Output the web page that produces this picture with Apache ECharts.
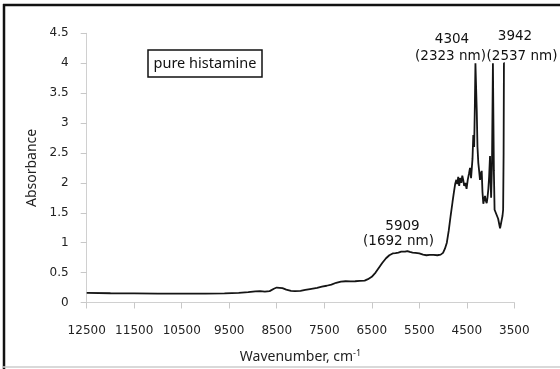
<!DOCTYPE html>
<html>
<head>
<meta charset="utf-8">
<script src="https://cdn.jsdelivr.net/npm/echarts@6/dist/echarts.min.js"></script>
<style>html,body{margin:0;padding:0;background:#fff}#c{width:560px;height:369px}</style>
</head>
<body>
<div id="c"></div>
<script>
const wavenumbers = [12500,12000,11500,11000,10500,10000,9600,9300,9100,8950,8850,8750,8650,8560,8500,8440,8380,8300,8200,8120,8000,7900,7800,7650,7550,7450,7350,7250,7150,7050,6950,6850,6750,6650,6580,6500,6420,6350,6280,6200,6130,6060,6000,5940,5880,5840,5800,5750,5700,5640,5580,5500,5420,5350,5280,5200,5120,5050,5000,4960,4920,4880,4840,4800,4770,4745,4720,4700,4680,4660,4640,4615,4595,4575,4555,4530,4505,4480,4455,4432,4410,4395,4380,4363,4345,4330,4318,4300,4290,4275,4257,4240,4222,4205,4186,4170,4152,4135,4117,4100,4081,4065,4046,4030,4011,3998,3988,3970,3950,3940,3930,3915,3890,3870,3840,3815,3800,3785,3765,3748,3735,3725,3718,3700];
const absorbance = [0.16,0.155,0.152,0.15,0.148,0.149,0.153,0.162,0.172,0.185,0.19,0.183,0.19,0.23,0.25,0.245,0.24,0.215,0.195,0.19,0.195,0.21,0.225,0.245,0.265,0.28,0.30,0.33,0.35,0.355,0.352,0.355,0.36,0.365,0.39,0.43,0.5,0.58,0.66,0.74,0.79,0.82,0.825,0.835,0.85,0.86,0.85,0.86,0.845,0.835,0.83,0.82,0.8,0.79,0.795,0.795,0.79,0.8,0.83,0.9,1.0,1.2,1.45,1.68,1.85,1.98,2.05,1.98,2.1,1.95,2.08,2.0,2.12,2.05,1.95,2.0,1.9,2.05,2.15,2.25,2.08,2.05,2.4,2.8,2.6,3.3,4.0,4.0,3.2,2.6,2.33,2.2,2.05,2.15,2.2,1.85,1.65,1.72,1.78,1.7,1.66,1.75,1.9,2.1,2.45,2.0,1.75,2.3,4.0,4.0,2.2,1.55,1.5,1.47,1.4,1.3,1.24,1.3,1.38,1.45,1.55,2.5,4.0,4.0];
const xTicks = [12500,11500,10500,9500,8500,7500,6500,5500,4500,3500];
const yTicks = [0,0.5,1,1.5,2,2.5,3,3.5,4,4.5];
const boxLabel = 'pure histamine';
const peakWavenumbers = ['5909','4304','3942'];
const peakWavelengths = ['(1692 nm)','(2323 nm)','(2537 nm)'];

const chart = echarts.init(document.getElementById('c'), null, {renderer:'canvas'});
const tickFont = 'DejaVu Sans';
const labFont = 'Noto Sans';
const annStyle = {fontFamily:tickFont,fontSize:13.5,fill:'#111',align:'center',verticalAlign:'middle'};
function ann(x,y,t){return {type:'text',x:x,y:y,style:Object.assign({text:t},annStyle)};}
chart.setOption({
  animation:false,
  backgroundColor:'#fff',
  grid:{left:86.7,right:45.7,top:33.3,bottom:65.7,containLabel:false},
  xAxis:{
    type:'value', inverse:true, min:3500, max:12500,
    name:'Wavenumber, cm{sup|-1}', nameLocation:'middle', nameGap:46,
    nameTextStyle:{fontFamily:labFont,fontSize:14,color:'#222',
      rich:{sup:{fontFamily:labFont,fontSize:9,verticalAlign:'top',padding:[0,0,8,0],color:'#222'}}},
    axisLine:{show:true,lineStyle:{color:'#d0d0d0',width:1}},
    axisTick:{show:true,length:6,inside:false,customValues:xTicks,lineStyle:{color:'#c8c8c8'}},
    axisLabel:{customValues:xTicks,margin:22,fontFamily:tickFont,fontSize:12,color:'#222',formatter:v=>String(v)},
    splitLine:{show:false}
  },
  yAxis:{
    type:'value', min:0, max:4.5, interval:0.5,
    name:'Absorbance', nameLocation:'middle', nameGap:47,
    nameTextStyle:{fontFamily:labFont,fontSize:14,color:'#222'},
    axisLine:{show:true,lineStyle:{color:'#d0d0d0',width:1}},
    axisTick:{show:true,length:6,lineStyle:{color:'#c8c8c8'}},
    axisLabel:{customValues:yTicks,margin:18,fontFamily:tickFont,fontSize:12,color:'#222',formatter:v=>String(v)},
    splitLine:{show:false}
  },
  series:[{
    type:'line', data:wavenumbers.map((w,i)=>[w,absorbance[i]]),
    showSymbol:false, symbol:'none', smooth:false,
    lineStyle:{color:'#151515',width:1.8}
  }],
  graphic:[
    {type:'line',shape:{x1:4,y1:4,x2:4,y2:369},style:{stroke:'#111',lineWidth:2.5},silent:true},
    {type:'line',shape:{x1:3,y1:5,x2:560,y2:5},style:{stroke:'#111',lineWidth:2.5},silent:true},
    {type:'line',shape:{x1:3,y1:367,x2:560,y2:367},style:{stroke:'#ccc',lineWidth:1.5},silent:true},
    {type:'rect',shape:{x:148,y:50,width:114,height:27},style:{fill:'#fff',stroke:'#111',lineWidth:1.5}},
    {type:'text',x:205,y:63.5,style:{text:boxLabel,fontFamily:labFont,fontSize:14.5,fill:'#111',align:'center',verticalAlign:'middle'}},
    ann(402.5,226,peakWavenumbers[0]), ann(398.5,241.5,peakWavelengths[0]),
    ann(452,39,peakWavenumbers[1]), ann(450.5,56,peakWavelengths[1]),
    ann(515,36,peakWavenumbers[2]), ann(522,56,peakWavelengths[2])
  ]
});
</script>
</body>
</html>
